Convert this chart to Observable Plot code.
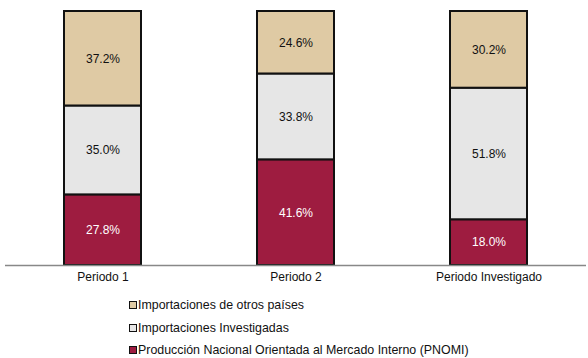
<!DOCTYPE html>
<html>
<head>
<meta charset="utf-8">
<script src="https://cdn.jsdelivr.net/npm/d3@7"></script>
<script src="https://cdn.jsdelivr.net/npm/@observablehq/plot@0.6"></script>
<style>
  html, body { margin: 0; padding: 0; background: #fff; }
  body { width: 588px; height: 358px; overflow: hidden; font-family: "Liberation Sans", Arial, sans-serif; }
  #legend { margin-left: 129px; padding-top: 4px; font-size: 12.4px; color: #111; }
  .row { height: 22.5px; display: flex; align-items: center; }
  .sw { width: 6px; height: 6px; border: 1px solid #111; margin-right: 1px; box-sizing: content-box; }
</style>
</head>
<body>
<div id="chart"></div>
<div id="legend"></div>
<script>
const periods = ["Periodo 1", "Periodo 2", "Periodo Investigado"];
const series = [
  "Producción Nacional Orientada al Mercado Interno (PNOMI)",
  "Importaciones Investigadas",
  "Importaciones de otros países"
];
const pnomi = [27.8, 41.6, 18.0];
const investigadas = [35.0, 33.8, 51.8];
const otros = [37.2, 24.6, 30.2];
const colors = ["#9E1C40", "#E6E6E6", "#DFCAA4"];

const values = [pnomi, investigadas, otros];
const data = [];
series.forEach((s, si) => periods.forEach((p, pi) => data.push({period: p, series: s, value: values[si][pi]})));

const fmt = d => d.value.toFixed(1) + "%";

const chart = Plot.plot({
  width: 588,
  height: 290,
  marginTop: 11,
  marginBottom: 25,
  marginLeft: 5,
  marginRight: 2,
  style: {fontFamily: "Liberation Sans, Arial, sans-serif", fontSize: "12px", color: "#111"},
  x: {domain: periods, paddingInner: 0.6, paddingOuter: 0.3, label: null, tickSize: 0, tickPadding: 7},
  y: {domain: [0, 100], axis: null},
  color: {domain: series, range: colors},
  marks: [
    Plot.barY(data, {x: "period", y: "value", fill: "series", z: "series", order: series, stroke: "#111", strokeWidth: 2}),
    Plot.text(data, Plot.stackY({x: "period", y: "value", z: "series", order: series, text: fmt, fill: d => d.series === series[0] ? "#fff" : "#111"})),
    Plot.ruleY([0], {stroke: "#888", strokeWidth: 1.5})
  ]
});
document.getElementById("chart").appendChild(chart);

const legend = document.getElementById("legend");
[2, 1, 0].forEach(i => {
  const row = document.createElement("div");
  row.className = "row";
  const sw = document.createElement("span");
  sw.className = "sw";
  sw.style.background = colors[i];
  row.appendChild(sw);
  const t = document.createElement("span");
  t.textContent = series[i];
  row.appendChild(t);
  legend.appendChild(row);
});
</script>
</body>
</html>
